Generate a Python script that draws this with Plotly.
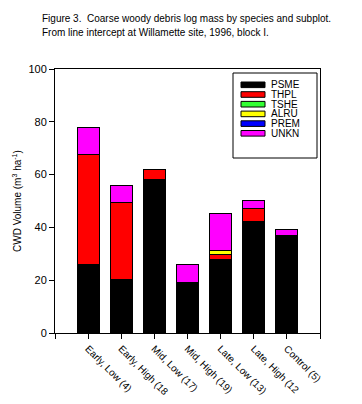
import plotly.graph_objects as go

categories = ["Early, Low (4)", "Early, High (18", "Mid, Low (17)", "Mid, High (19)",
              "Late, Low (13)", "Late, High (12", "Control (5)"]
species = ["PSME", "THPL", "TSHE", "ALRU", "PREM", "UNKN"]
colors = ["#000000", "#FF0000", "#33FF33", "#FFFF00", "#0000FF", "#FF00FF"]

PSME = [26.1, 20.4, 58.3, 19.3, 28.0, 42.4, 37.1]
THPL = [41.4, 29.0, 3.7, 0.0, 1.8, 4.6, 0.0]
TSHE = [0.0, 0.0, 0.0, 0.0, 0.0, 0.0, 0.0]
ALRU = [0.0, 0.0, 0.0, 0.0, 1.5, 0.0, 0.0]
PREM = [0.0, 0.0, 0.0, 0.0, 0.0, 0.0, 0.0]
UNKN = [10.5, 6.5, 0.0, 6.7, 14.0, 3.3, 2.2]
series = [PSME, THPL, TSHE, ALRU, PREM, UNKN]

y_ticks = [0, 20, 40, 60, 80, 100]

FONT = "Liberation Sans, Arial, sans-serif"
OFF = 8  # page body margin in the browser
W, H = 362 - OFF, 404 - OFF
L, T = 55 - OFF, 69 - OFF
R = W - (320 - OFF)
B = H - (333 - OFF)
pw, ph = W - L - R, H - T - B

def px_x(x):
    return (x - OFF - L) / pw

def px_y(y):
    return (H - B - (y - OFF)) / ph

fig = go.Figure()
xpos = list(range(1, len(categories) + 1))
for name, vals, col in zip(species, series, colors):
    fig.add_trace(go.Bar(
        x=xpos, y=[v if v > 0 else None for v in vals], name=name,
        marker=dict(color=col, line=dict(color="black", width=1)),
        width=0.67, showlegend=False,
    ))

# manual legend (wide swatches like the original)
shapes = [dict(type="rect", xref="paper", yref="paper",
               x0=px_x(233), x1=px_x(317), y0=px_y(158), y1=px_y(73),
               line=dict(color="black", width=1), fillcolor="white", layer="above")]
annotations = []
for i, (name, col) in enumerate(zip(species, colors)):
    cy = 84.8 + 9.7 * i
    shapes.append(dict(type="rect", xref="paper", yref="paper",
                       x0=px_x(241), x1=px_x(265), y0=px_y(cy + 2.8), y1=px_y(cy - 2.8),
                       line=dict(color="black", width=1), fillcolor=col, layer="above"))
    annotations.append(dict(xref="paper", yref="paper", x=px_x(269), y=px_y(cy),
                            text=name, showarrow=False, xanchor="left", yanchor="middle",
                            font=dict(size=10, color="black", family=FONT)))

annotations.append(dict(xref="paper", yref="paper", x=px_x(40), y=px_y(18),
                        text="Figure 3.  Coarse woody debris log mass by species and subplot.",
                        showarrow=False, xanchor="left", yanchor="middle",
                        font=dict(size=10, color="black", family=FONT)))
annotations.append(dict(xref="paper", yref="paper", x=px_x(40), y=px_y(33),
                        text="From line intercept at Willamette site, 1996, block I.",
                        showarrow=False, xanchor="left", yanchor="middle",
                        font=dict(size=10, color="black", family=FONT)))
annotations.append(dict(xref="paper", yref="paper", x=px_x(17), y=px_y(201),
                        text="CWD Volume (m<sup>3</sup> ha<sup>-1</sup>)", textangle=-90,
                        showarrow=False, xanchor="center", yanchor="middle",
                        font=dict(size=10, color="black", family=FONT)))

fig.update_layout(
    width=W, height=H, margin=dict(l=L, r=R, t=T, b=B, autoexpand=False),
    barmode="stack", plot_bgcolor="white", paper_bgcolor="white",
    shapes=shapes, annotations=annotations,
    font=dict(family=FONT, size=10, color="black"),
)
fig.update_xaxes(range=[0, 8], tickvals=xpos, ticktext=categories, tickangle=45,
                 showline=True, linecolor="black", linewidth=1, mirror=True,
                 ticks="outside", ticklen=5, tickcolor="black", showgrid=False,
                 minor=dict(tickvals=[0, 8], ticks="outside", ticklen=5,
                            tickcolor="black", showgrid=False),
                 zeroline=False, tickfont=dict(size=10, family=FONT))
fig.update_yaxes(range=[0, 100], tickvals=y_ticks,
                 showline=True, linecolor="black", linewidth=1, mirror=True,
                 ticks="outside", ticklen=5, tickcolor="black", showgrid=False,
                 zeroline=False, tickfont=dict(size=11, family=FONT))

fig.write_html("out.html")
